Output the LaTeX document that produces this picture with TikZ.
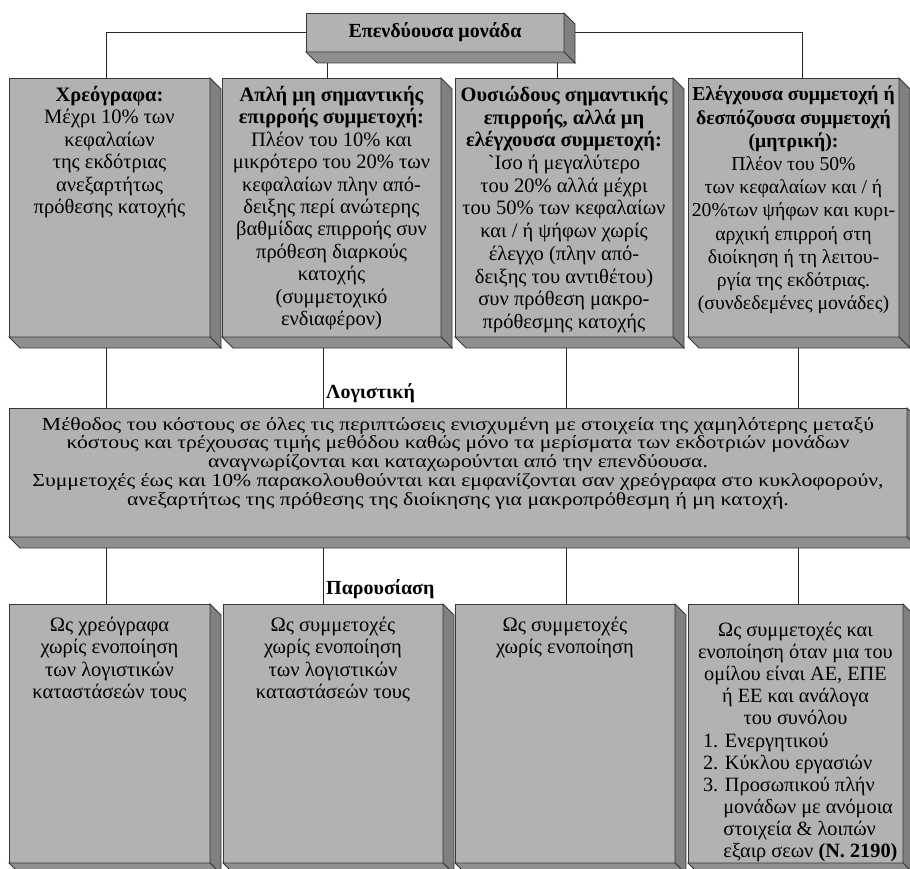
\documentclass[tikz,border=0pt]{standalone}
\usepackage{fontspec}
\setmainfont{Liberation Serif}
\newfontfamily\widefont{Liberation Serif}[FakeStretch=1.18]
\usetikzlibrary{backgrounds}

\definecolor{facegray}{gray}{0.70}
\definecolor{sidegray}{gray}{0.50}
\definecolor{botgray}{gray}{0.56}
\definecolor{edgegray}{gray}{0.22}

\newcommand{\tightlines}{\lineskiplimit=-20pt\relax}

\tikzstyle{slab} = [draw=edgegray, line width=.9pt, fill=facegray, rectangle, inner sep=0pt, outer sep=0pt]
\tikzstyle{cbox} = [slab, minimum height=259pt]
\tikzstyle{btext} = [anchor=north, align=center, inner sep=0pt, font=\fontsize{20.5}{22.4}\selectfont\tightlines]
\tikzstyle{lbl} = [anchor=west, inner sep=0pt, font=\fontsize{20}{22}\selectfont\bfseries]
\tikzstyle{link} = [draw, line width=.8pt, black!85]

\newcommand{\depthfaces}[1]{%
  \filldraw[draw=edgegray, line width=.9pt, fill=sidegray] (#1.north east) -- ++(\dep,\dep) -- ([shift={(\dep,\dep)}]#1.south east) -- (#1.south east) -- cycle;
  \filldraw[draw=edgegray, line width=.9pt, fill=botgray] (#1.south west) -- ++(\dep,\dep) -- ([shift={(\dep,\dep)}]#1.south east) -- (#1.south east) -- cycle;}

\begin{document}
\begin{tikzpicture}[x=1pt, y=-1pt]
  \def\dep{11}
  \useasboundingbox (0,0) rectangle (910,869);

  \node [slab, minimum width=258pt, minimum height=39pt, font=\fontsize{20}{22}\selectfont\bfseries] (inv) at (435,32.5) {Επενδύουσα μονάδα};

  \node [cbox, minimum width=201pt] (own1) at (109.5,207.5) {};
  \node [cbox, minimum width=219pt] (own2) at (331.5,207.5) {};
  \node [cbox, minimum width=218pt] (own3) at (564,207.5) {};
  \node [cbox, minimum width=211pt] (own4) at (793.5,207.5) {};

  \node [slab, minimum width=898pt, minimum height=129pt] (acc) at (458,472.5) {};

  \node [cbox, minimum width=201pt] (pres1) at (109.5,733.5) {};
  \node [cbox, minimum width=220pt] (pres2) at (333,733.5) {};
  \node [cbox, minimum width=220pt] (pres3) at (565,733.5) {};
  \node [cbox, minimum width=215pt] (pres4) at (795.5,733.5) {};

  \foreach \n in {inv,own1,own2,own3,own4,acc,pres1,pres2,pres3,pres4}
    \depthfaces{\n};

  \coordinate (u1) at (106,0);
  \coordinate (u2) at (327,0);
  \coordinate (u3) at (557,0);
  \coordinate (u4) at (802,0);
  \coordinate (d1) at (106,0);
  \coordinate (d2) at (323,0);
  \coordinate (d3) at (566,0);
  \coordinate (d4) at (798,0);

  \begin{pgfonlayer}{background}
    \draw [link] (inv.west) -| (u1 |- own1.north);
    \draw [link] (inv.east) -| (u4 |- own4.north);
    \draw [link] (u2 |- inv.south) -- (u2 |- own2.north);
    \draw [link] (u3 |- inv.south) -- (u3 |- own3.north);
    \foreach \i in {1,...,4} {
      \draw [link] (d\i |- own\i.south) -- (d\i |- acc.north);
      \draw [link] (d\i |- acc.south) -- (d\i |- pres\i.north);
    }
  \end{pgfonlayer}

  \node [btext] (own1t) at ([yshift=-8pt]own1.north) {{\bfseries Χρεόγραφα:}\\Μέχρι 10\% των\\κεφαλαίων\\της εκδότριας\\ανεξαρτήτως\\πρόθεσης κατοχής};
  \node [btext] (own2t) at ([yshift=-8pt]own2.north) {{\bfseries Απλή μη σημαντικής}\\{\bfseries επιρροής συμμετοχή:}\\Πλέον του 10\% και\\μικρότερο του 20\% των\\κεφαλαίων πλην από-\\δειξης περί ανώτερης\\βαθμίδας επιρροής συν\\πρόθεση διαρκούς\\κατοχής\\(συμμετοχικό\\ενδιαφέρον)};
  \node [btext, font=\fontsize{20.5}{22.7}\selectfont\tightlines] (own3t) at ([yshift=-8pt]own3.north) {{\bfseries Ουσιώδους σημαντικής}\\{\bfseries επιρροής, αλλά μη}\\{\bfseries ελέγχουσα συμμετοχή:}\\\textasciigrave Ισο ή μεγαλύτερο\\του 20\% αλλά μέχρι\\του 50\% των κεφαλαίων\\και / ή ψήφων χωρίς\\έλεγχο (πλην από-\\δειξης του αντιθέτου)\\συν πρόθεση μακρο-\\πρόθεσμης κατοχής};
  \node [btext, font=\fontsize{19.7}{23.2}\selectfont\tightlines] (own4t) at ([yshift=-8pt]own4.north) {{\bfseries Ελέγχουσα συμμετοχή ή}\\{\bfseries δεσπόζουσα συμμετοχή}\\{\bfseries (μητρική):}\\Πλέον του 50\%\\των κεφαλαίων και / ή\\20\%των ψήφων και κυρι-\\αρχική επιρροή στη\\διοίκηση ή τη λειτου-\\ργία της εκδότριας.\\(συνδεδεμένες μονάδες)};

  \node [lbl] (acclbl) at (326,393) {Λογιστική};
  \node [btext, font=\widefont\fontsize{18.4}{18.8}\selectfont\tightlines] (acct) at ([yshift=-9pt]acc.north) {Μέθοδος του κόστους σε όλες τις περιπτώσεις ενισχυμένη με στοιχεία της χαμηλότερης μεταξύ\\κόστους και τρέχουσας τιμής μεθόδου καθώς μόνο τα μερίσματα των εκδοτριών μονάδων\\αναγνωρίζονται και καταχωρούνται από την επενδύουσα.\\Συμμετοχές έως και 10\% παρακολουθούνται και εμφανίζονται σαν χρεόγραφα στο κυκλοφορούν,\\ανεξαρτήτως της πρόθεσης της διοίκησης για μακροπρόθεσμη ή μη κατοχή.};

  \node [lbl] (preslbl) at (326,589) {Παρουσίαση};
  \node [btext, font=\fontsize{20.5}{22.2}\selectfont\tightlines] (pres1t) at ([yshift=-13pt]pres1.north) {Ως χρεόγραφα\\χωρίς ενοποίηση\\των λογιστικών\\καταστάσεών τους};
  \node [btext, font=\fontsize{20.5}{22.2}\selectfont\tightlines] (pres2t) at ([yshift=-13pt]pres2.north) {Ως συμμετοχές\\χωρίς ενοποίηση\\των λογιστικών\\καταστάσεών τους};
  \node [btext, font=\fontsize{20.5}{22.2}\selectfont\tightlines] (pres3t) at ([yshift=-13pt]pres3.north) {Ως συμμετοχές\\χωρίς ενοποίηση};
  \node [btext, font=\fontsize{20.3}{22.1}\selectfont\tightlines] (pres4t) at ([yshift=-18pt]pres4.north) {Ως συμμετοχές και\\ενοποίηση όταν μια του\\ομίλου είναι ΑΕ, ΕΠΕ\\ή ΕΕ και ανάλογα\\του συνόλου\\\makebox[185pt][l]{1. Ενεργητικού}\\\makebox[185pt][l]{2. Κύκλου εργασιών}\\\makebox[185pt][l]{3. Προσωπικού πλήν}\\\makebox[185pt][l]{\phantom{3.\ }μονάδων με ανόμοια}\\\makebox[185pt][l]{\phantom{3.\ }στοιχεία \& λοιπών}\\\makebox[185pt][l]{\phantom{3.\ }εξαιρ σεων {\bfseries (Ν. 2190)}}};
\end{tikzpicture}
\end{document}
